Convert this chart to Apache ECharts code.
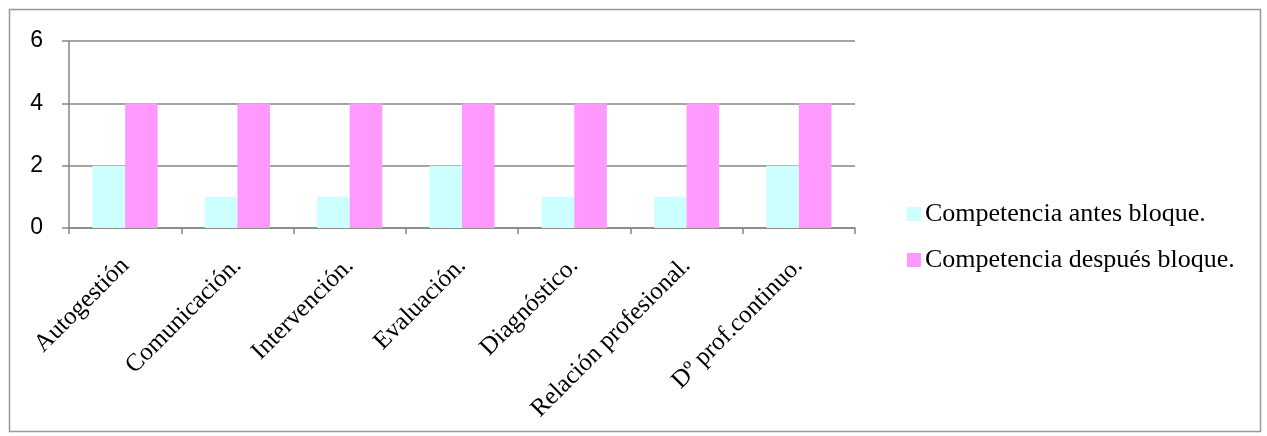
<!DOCTYPE html>
<html>
<head>
<meta charset="utf-8">
<script src="https://cdn.jsdelivr.net/npm/echarts@6/dist/echarts.min.js"></script>
<style>
html,body{margin:0;padding:0;background:#fff;}
#c{width:1267px;height:436px;}
</style>
</head>
<body>
<div id="c"></div>
<script>
var categories = ['Autogestión','Comunicación.','Intervención.','Evaluación.','Diagnóstico.','Relación profesional.','Dº prof.continuo.'];
var antes = [2,1,1,2,1,1,2];
var despues = [4,4,4,4,4,4,4];
var seriesNames = ['Competencia antes bloque.','Competencia después bloque.'];
var yTicks = [0,2,4,6];

var chart = echarts.init(document.getElementById('c'), null, {renderer:'canvas'});
chart.setOption({
  animation:false,
  backgroundColor:'#fff',
  graphic:[{type:'rect',shape:{x:9.5,y:9.5,width:1251,height:422},style:{fill:'none',stroke:'#999',lineWidth:1.5},silent:true}],
  grid:{left:69,right:412,top:41,bottom:208,containLabel:false},
  legend:{
    orient:'vertical',left:907,top:201,padding:0,itemWidth:14,itemHeight:14,itemGap:20,
    icon:'rect',
    textStyle:{fontFamily:'Liberation Serif',fontSize:26,lineHeight:26,color:'#000',padding:[0,0,0,-1]},
    data:seriesNames
  },
  xAxis:{
    type:'category',data:categories,
    axisLine:{lineStyle:{color:'#868686',width:1.5}},
    axisTick:{show:true,length:6,lineStyle:{color:'#868686',width:1.5}},
    axisLabel:{rotate:45,interval:0,margin:34,fontFamily:'Liberation Serif',fontSize:25,color:'#000'}
  },
  yAxis:{
    type:'value',min:0,max:6,interval:2,
    axisLine:{show:true,lineStyle:{color:'#868686',width:1.5}},
    axisTick:{show:true,length:7,lineStyle:{color:'#868686',width:1.5}},
    splitLine:{lineStyle:{color:'#868686',width:1.5}},
    axisLabel:{margin:26,fontFamily:'Liberation Sans',fontSize:23,color:'#000',
      formatter:function(v){return yTicks.indexOf(v)>=0?String(v):'';}}
  },
  series:[
    {name:seriesNames[0],type:'bar',data:antes,barGap:'0%',barCategoryGap:'42%',itemStyle:{color:'#CCFFFF'}},
    {name:seriesNames[1],type:'bar',data:despues,barGap:'0%',barCategoryGap:'42%',itemStyle:{color:'#FF99FF'}}
  ]
});
</script>
</body>
</html>
